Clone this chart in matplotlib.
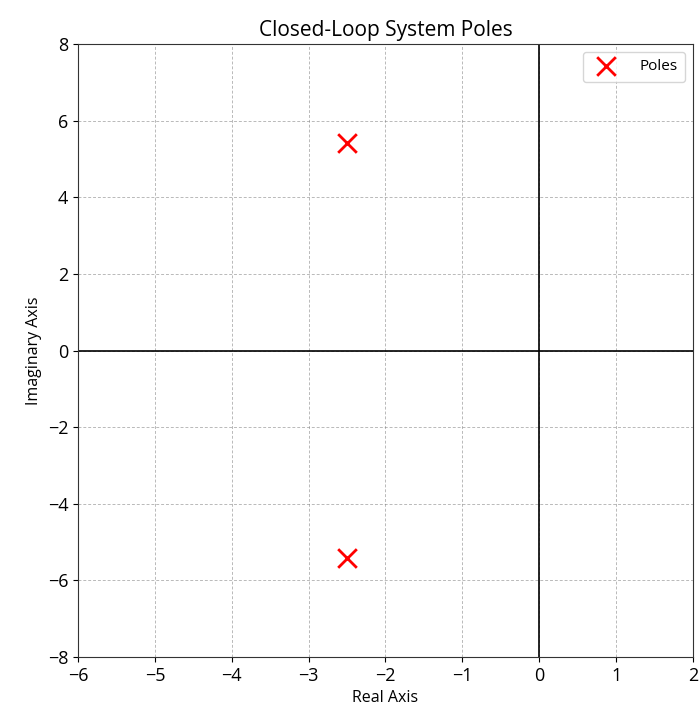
import numpy as np
import matplotlib.pyplot as plt

plt.rcParams['font.family'] = ['Open Sans', 'DejaVu Sans']

pole_real = [-2.5, -2.5]
pole_imag = [5.42, -5.42]
x_ticks = [-6, -5, -4, -3, -2, -1, 0, 1, 2]
y_ticks = [-8, -6, -4, -2, 0, 2, 4, 6, 8]

fig = plt.figure(figsize=(6.99, 7.14), dpi=100)
ax = fig.add_axes([0.1116, 0.0798, 0.8798, 0.8586])

ax.scatter(pole_real, pole_imag, marker="x", color="red", s=180, linewidths=2, label="Poles", zorder=3)
ax.axhline(0, color="black", linewidth=1.2)
ax.axvline(0, color="black", linewidth=1.2)

ax.set_xlim(-6, 2)
ax.set_ylim(-8, 8)
ax.set_xticks(x_ticks)
ax.set_yticks(y_ticks)
ax.tick_params(labelsize=13)
for s in ax.spines.values():
    s.set_color("#333333")
ax.grid(True, linestyle=(0, (3, 2)), color="gray", alpha=0.55, linewidth=0.7)
ax.set_xlabel("Real Axis", fontsize=11.5)
ax.set_ylabel("Imaginary Axis", fontsize=11.5)
ax.set_title("Closed-Loop System Poles", fontsize=15)
ax.legend(loc="upper right", fontsize=11, borderpad=0.5, handletextpad=1.2)

fig.savefig("out.png", dpi=100)
plt.close(fig)
